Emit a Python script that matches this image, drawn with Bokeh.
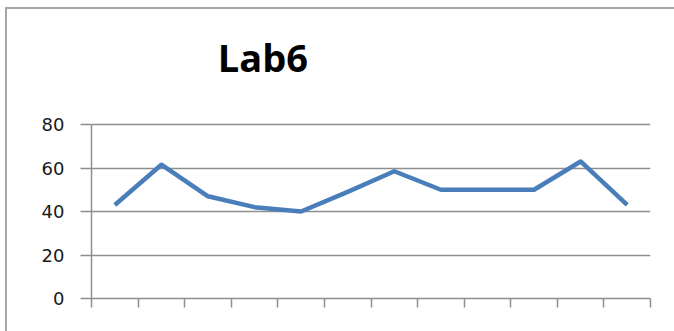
from bokeh.plotting import figure
from bokeh.models import FixedTicker, Range1d, CustomJSTickFormatter, Label
from bokeh.embed import file_html
from bokeh.resources import INLINE

title_text = "Lab6"
categories = ["1", "2", "3", "4", "5", "6", "7", "8", "9", "10", "11", "12"]
values = [43, 61.5, 47, 42, 40, 49, 58.5, 50, 50, 50, 63, 43]
y_ticks = [0, 20, 40, 60, 80]

W, H = 674, 331
border_bottom = 33
frame_h = H - border_bottom
axis_top_px = 124  # pixel row of the 80 line
y_max = y_ticks[-1]
y_end = y_max * frame_h / (frame_h - axis_top_px)
n = len(categories)
x_pos = [i + 0.5 for i in range(n)]

p = figure(width=W, height=H, output_backend="svg", toolbar_location=None,
           x_range=Range1d(0, n), y_range=Range1d(0, y_end),
           min_border_left=91, min_border_right=24, min_border_top=0,
           min_border_bottom=border_bottom)
p.outline_line_color = None
p.background_fill_color = None
p.border_fill_color = None
v_grad = "linear-gradient(to right, #a6a6a6 0px, #a6a6a6 2px, transparent 2px)"
h_grad = "linear-gradient(to bottom, #a6a6a6 0px, #a6a6a6 2px, transparent 2px)"
p.styles = {
    "background-color": "white",
    "background-image": f"{v_grad}, {h_grad}",
    "background-position": "5px 7px, 5px 7px",
    "background-size": "100% 100%, 100% 100%",
    "background-repeat": "no-repeat, no-repeat",
}

p.line(x_pos, values, line_color="#4a7ebb", line_width=4.5, line_join="round")

grid_color = "#8e8e8e"
# y axis
p.yaxis.ticker = FixedTicker(ticks=y_ticks)
p.yaxis.bounds = (0, y_max)
p.yaxis.axis_line_color = grid_color
p.yaxis.axis_line_width = 1.5
p.yaxis.major_tick_line_color = grid_color
p.yaxis.major_tick_line_width = 1.5
p.yaxis.major_tick_out = 11
p.yaxis.major_tick_in = 0
p.yaxis.minor_tick_line_color = None
p.yaxis.major_label_standoff = 16
p.yaxis.major_label_text_font = "DejaVu Sans"
p.yaxis.major_label_text_font_size = "18px"
p.yaxis.major_label_text_color = "#1a1a1a"

# x axis
p.xaxis.ticker = FixedTicker(ticks=list(range(n + 1)))
p.xaxis.axis_line_color = grid_color
p.xaxis.axis_line_width = 1.5
p.xaxis.major_tick_line_color = grid_color
p.xaxis.major_tick_line_width = 1.5
p.xaxis.major_tick_out = 9
p.xaxis.major_tick_in = 0
p.xaxis.minor_tick_line_color = None
p.xaxis.formatter = CustomJSTickFormatter(code="return ''")

p.xgrid.grid_line_color = None
p.ygrid.ticker = FixedTicker(ticks=y_ticks)
p.ygrid.grid_line_color = grid_color
p.ygrid.grid_line_width = 1.5

# title, placed above the 80 gridline
p.add_layout(Label(x=3.68, y=111.2, text=title_text, text_font="Open Sans",
                   text_font_style="bold", text_font_size="38px",
                   text_align="center", text_baseline="alphabetic",
                   text_color="black"))

open("out.html", "w").write(file_html(p, INLINE))
